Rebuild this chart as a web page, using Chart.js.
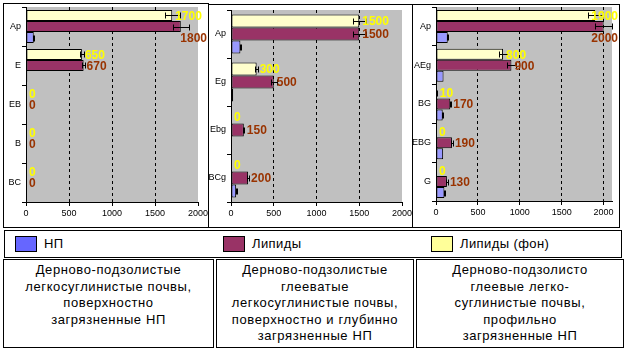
<!DOCTYPE html>
<html>
<head>
<meta charset="utf-8">
<script src="https://cdn.jsdelivr.net/npm/chart.js@4"></script>
<style>
body { margin: 0; background: #fff; width: 625px; height: 349px; position: relative; overflow: hidden; font-family: 'Liberation Sans', Arial, sans-serif; }
.box { position: absolute; border: 1px solid #000; box-sizing: border-box; background: #fff; }
canvas { position: absolute; }
.sw { position: absolute; width: 22px; height: 16px; border: 1px solid #000; box-sizing: border-box; top: 5px; }
.lt { position: absolute; top: 5px; font-size: 13px; line-height: 16px; letter-spacing: 0.4px; }
.txt { text-align: center; font-size: 13px; line-height: 16.5px; letter-spacing: 0.6px; padding-top: 2px; }
</style>
</head>
<body>
<div class="box" style="left:3px;top:3px;width:206px;height:225px"></div>
<div class="box" style="left:208px;top:4px;width:205px;height:224px"></div>
<div class="box" style="left:412px;top:4px;width:208px;height:224px"></div>
<canvas id="c1"></canvas>
<canvas id="c2"></canvas>
<canvas id="c3"></canvas>

<div class="box" id="legend" style="left:4px;top:230px;width:618px;height:28px"></div>

<div class="box txt" style="left:3px;top:259px;width:211px;height:89px">Дерново-подзолистые<br>легкосуглинистые почвы,<br>поверхностно<br>загрязненные НП</div>
<div class="box txt" style="left:216px;top:259px;width:198px;height:89px">Дерново-подзолистые<br>глееватые<br>легкосуглинистые почвы,<br>поверхностно и глубинно<br>загрязненные НП</div>
<div class="box txt" style="left:416px;top:259px;width:208px;height:89px">Дерново-подзолисто<br>глеевые легко-<br>суглинистые почвы,<br>профильно<br>загрязненные НП</div>

<script>
// series names and colours
var seriesNames = ['Липиды (фон)', 'Липиды', 'НП'];
var barColors = ['#FFFFCC', '#993366', '#9999FF'];
var legendColors = ['#FFFF99', '#993366', '#6666FF'];
var labelColors = ['#FFFF00', '#993300', null];
var xTicks = [0, 500, 1000, 1500, 2000];

// panel 1
var cats1 = ['Ap', 'E', 'EB', 'B', 'BC'];
var fon1 = [1700, 650, 0, 0, 0];
var lip1 = [1800, 670, 0, 0, 0];
var np1 = [90, 15, 0, 0, 0];
var fonErr1 = [85, 25, 0, 0, 0];
var lipErr1 = [95, 20, 0, 0, 0];
var npErr1 = [5, 0, 0, 0, 0];

// panel 2
var cats2 = ['Ap', 'Eg', 'Ebg', 'BCg'];
var fon2 = [1500, 300, 0, 0];
var lip2 = [1500, 500, 150, 200];
var np2 = [110, 25, 5, 60];
var fonErr2 = [75, 20, 0, 0];
var lipErr2 = [75, 35, 5, 10];
var npErr2 = [5, 0, 0, 5];

// panel 3
var cats3 = ['Ap', 'AEg', 'BG', 'EBG', 'G'];
var fon3 = [1900, 800, 10, 0, 0];
var lip3 = [2000, 900, 170, 190, 130];
var np3 = [140, 90, 80, 85, 100];
var fonErr3 = [90, 45, 5, 0, 0];
var lipErr3 = [100, 50, 8, 10, 8];
var npErr3 = [5, 0, 5, 0, 5];

// legend (order as in the picture)
var legend = document.getElementById('legend');
var legendX = [10, 218, 426];
[2, 1, 0].forEach(function (si, k) {
    var sw = document.createElement('div');
    sw.className = 'sw';
    sw.style.left = legendX[k] + 'px';
    sw.style.background = legendColors[si];
    legend.appendChild(sw);
    var t = document.createElement('div');
    t.className = 'lt';
    t.style.left = (legendX[k] + 29) + 'px';
    t.textContent = seriesNames[si];
    legend.appendChild(t);
});

var smallFont = { family: "'Liberation Sans', Arial", size: 9 };

var bgPlugin = {
    id: 'plotBg',
    beforeDraw: function (chart) {
        var a = chart.chartArea, ctx = chart.ctx;
        ctx.save();
        ctx.fillStyle = '#C0C0C0';
        ctx.fillRect(a.left, a.top, a.right - a.left, a.bottom - a.top);
        ctx.restore();
    }
};

var errPlugin = {
    id: 'errBars',
    afterDatasetsDraw: function (chart) {
        var ctx = chart.ctx, xs = chart.scales.x;
        chart.data.datasets.forEach(function (ds, di) {
            chart.getDatasetMeta(di).data.forEach(function (bar, i) {
                var e = ds.err[i];
                if (!e) return;
                var v = ds.data[i];
                var y = Math.round(bar.y) + 0.5;
                var x1 = Math.round(xs.getPixelForValue(Math.max(0, v - e))) + 0.5;
                var x2 = Math.round(xs.getPixelForValue(v + e)) + 0.5;
                ctx.save();
                ctx.strokeStyle = '#000';
                ctx.lineWidth = 1;
                ctx.beginPath();
                ctx.moveTo(x1, y); ctx.lineTo(x2, y);
                ctx.moveTo(x1, y - 3); ctx.lineTo(x1, y + 3);
                ctx.moveTo(x2, y - 3); ctx.lineTo(x2, y + 3);
                ctx.stroke();
                ctx.restore();
            });
        });
    }
};

var labelPlugin = {
    id: 'valLabels',
    afterDraw: function (chart) {
        var ctx = chart.ctx;
        ctx.save();
        ctx.font = "bold 12px 'Liberation Sans', Arial";
        ctx.textBaseline = 'middle';
        ctx.textAlign = 'left';
        chart.data.datasets.forEach(function (ds, di) {
            if (!ds.labelColor) return;
            ctx.fillStyle = ds.labelColor;
            chart.getDatasetMeta(di).data.forEach(function (bar, i) {
                var txt = String(ds.data[i]);
                var w = ctx.measureText(txt).width;
                var x = bar.x + 3, y = bar.y;
                if (x + w > chart.width - 1) {
                    x = chart.width - 1 - w;
                    if (di > 0) y += bar.height;
                }
                ctx.fillText(txt, x, y + 1);
            });
        });
        ctx.restore();
    }
};

function makePanel(id, box, plot, cats, series, errs, xMax, catPct) {
    var cL = box.x, cT = box.y + 1, cW = box.w - 1, cH = box.h - 2;
    var cv = document.getElementById(id);
    cv.style.left = cL + 'px';
    cv.style.top = cT + 'px';
    cv.style.width = cW + 'px';
    cv.style.height = cH + 'px';
    cv.width = cW;
    cv.height = cH;
    return new Chart(cv, {
        type: 'bar',
        data: {
            labels: cats,
            datasets: series.map(function (d, si) {
                return {
                    label: seriesNames[si],
                    data: d,
                    err: errs[si],
                    labelColor: labelColors[si],
                    backgroundColor: barColors[si],
                    borderColor: '#000',
                    borderWidth: 1,
                    borderSkipped: false,
                    barPercentage: 1,
                    categoryPercentage: catPct
                };
            })
        },
        options: {
            indexAxis: 'y',
            responsive: false,
            animation: false,
            layout: { padding: { left: 0, top: plot.t - cT, right: cL + cW - plot.r, bottom: 0 } },
            plugins: { legend: { display: false }, tooltip: { enabled: false } },
            scales: {
                x: {
                    min: 0,
                    max: xMax,
                    afterBuildTicks: function (s) {
                        s.ticks = xTicks.map(function (v) { return { value: v }; });
                    },
                    ticks: {
                        color: '#000', font: smallFont, padding: 2, maxRotation: 0, autoSkip: false,
                        callback: function (v) { return String(v); }
                    },
                    grid: {
                        color: function (c) {
                            return (c.tick && c.tick.value > 0 && c.tick.value < xMax) ? '#000' : 'rgba(0,0,0,0)';
                        },
                        tickColor: '#000',
                        tickBorderDash: [],
                        tickLength: 4
                    },
                    border: { color: '#000', dash: [3, 3] },
                    afterFit: function (s) {
                        s.height = cT + cH - plot.b;
                        s.paddingLeft = 0;
                        s.paddingRight = 0;
                    }
                },
                y: {
                    ticks: { color: '#000', font: smallFont, padding: 1 },
                    grid: { drawOnChartArea: false, offset: true, tickLength: 4, tickColor: '#000' },
                    border: { color: '#000' },
                    afterFit: function (s) {
                        s.width = plot.l - cL;
                        s.paddingTop = 0;
                        s.paddingBottom = 0;
                    }
                }
            }
        },
        plugins: [bgPlugin, errPlugin, labelPlugin]
    });
}

makePanel('c1', { x: 3, y: 3, w: 206, h: 225 }, { l: 26, r: 198, t: 7, b: 202 },
    cats1, [fon1, lip1, np1], [fonErr1, lipErr1, npErr1], 2000, 0.85);
makePanel('c2', { x: 208, y: 4, w: 205, h: 224 }, { l: 231, r: 402, t: 10, b: 202 },
    cats2, [fon2, lip2, np2], [fonErr2, lipErr2, npErr2], 2000, 0.81);
makePanel('c3', { x: 412, y: 4, w: 208, h: 224 }, { l: 436, r: 612, t: 7, b: 201 },
    cats3, [fon3, lip3, np3], [fonErr3, lipErr3, npErr3], 2100, 0.85);
</script>
</body>
</html>
